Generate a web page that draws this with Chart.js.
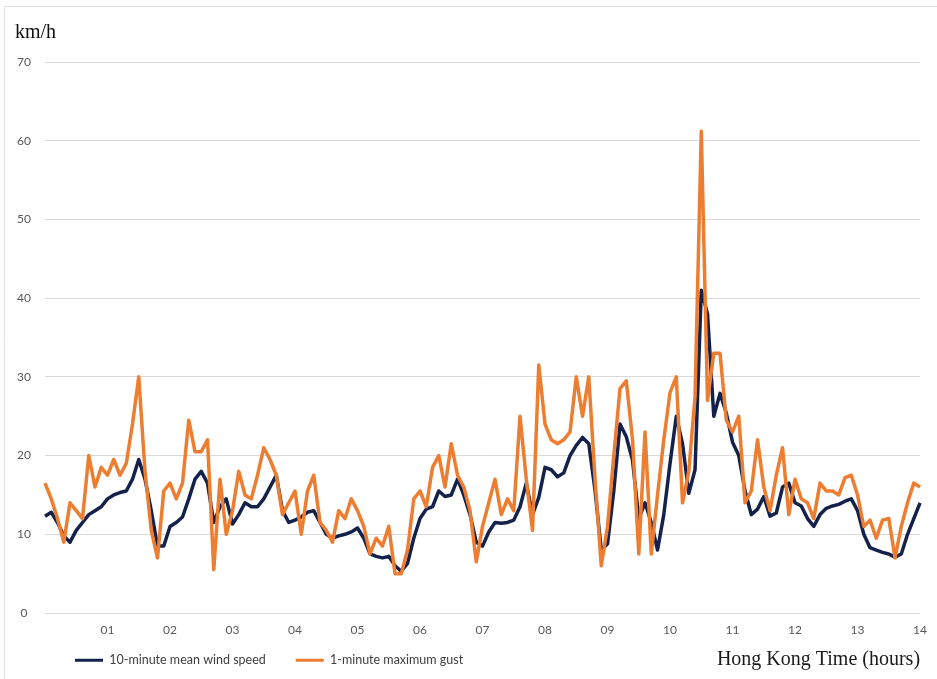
<!DOCTYPE html>
<html>
<head>
<meta charset="utf-8">
<title>Wind speed and gust</title>
<script src="https://cdn.jsdelivr.net/npm/chart.js@4.4.1/dist/chart.umd.min.js"></script>
<style>
  html, body { margin: 0; padding: 0; background: #ffffff; }
  #wrap { width: 937px; height: 679px; }
</style>
</head>
<body>
<div id="wrap"><canvas id="chart-wind" width="937" height="679"></canvas></div>
<script>
// readings every 6 minutes from 00:00 to 14:00 (141 points)
const timeLabels = [];
for (let m = 0; m <= 840; m += 6) {
    const h = String(Math.floor(m / 60)).padStart(2, '0');
    const mm = String(m % 60).padStart(2, '0');
    timeLabels.push(h + ':' + mm);
}

// 10-minute mean wind speed (km/h)
const meanSpeed = [
    12.3, 12.8, 11.5, 9.8, 9.0, 10.5, 11.5, 12.5, 13.0, 13.5,
    14.5, 15.0, 15.3, 15.5, 17.0, 19.5, 17.0, 13.0, 8.5, 8.5,
    11.0, 11.5, 12.2, 14.5, 17.0, 18.0, 16.5, 11.5, 13.5, 14.5,
    11.3, 12.5, 14.0, 13.5, 13.5, 14.5, 16.0, 17.5, 13.0, 11.5,
    11.8, 12.2, 12.8, 13.0, 11.5, 10.0, 9.5, 9.8, 10.0, 10.3,
    10.8, 9.5, 7.5, 7.2, 7.0, 7.2, 6.0, 5.3, 6.3, 9.5,
    12.0, 13.2, 13.5, 15.5, 14.8, 15.0, 17.0, 15.0, 12.5, 9.0,
    8.5, 10.3, 11.5, 11.4, 11.5, 11.8, 13.5, 16.5, 12.5, 14.7,
    18.5, 18.2, 17.3, 17.8, 20.0, 21.3, 22.3, 21.5, 15.6, 8.0,
    8.8, 15.5, 24.0, 22.4, 19.4, 12.0, 14.0, 11.5, 8.0, 12.5,
    19.0, 25.0, 21.5, 15.2, 18.2, 41.0, 38.0, 25.0, 27.9, 25.4,
    21.7, 20.0, 15.5, 12.5, 13.2, 14.8, 12.3, 12.7, 16.0, 16.5,
    14.0, 13.6, 12.0, 11.0, 12.5, 13.3, 13.6, 13.8, 14.2, 14.5,
    13.0, 10.0, 8.3, 8.0, 7.7, 7.5, 7.1, 7.5, 10.0, 12.0, 14.0
];

// 1-minute maximum gust (km/h)
const maxGust = [
    16.5, 14.5, 12.0, 9.0, 14.0, 13.0, 12.0, 20.0, 16.0, 18.5,
    17.5, 19.5, 17.5, 19.0, 24.0, 30.0, 18.0, 10.5, 7.0, 15.5,
    16.5, 14.5, 16.5, 24.5, 20.5, 20.5, 22.0, 5.5, 17.0, 10.0,
    13.0, 18.0, 15.0, 14.5, 17.5, 21.0, 19.5, 17.5, 12.5, 14.0,
    15.5, 10.0, 15.5, 17.5, 11.5, 10.5, 9.0, 13.0, 12.0, 14.5,
    13.0, 11.0, 7.5, 9.5, 8.5, 11.0, 5.0, 5.0, 8.0, 14.5,
    15.5, 13.5, 18.5, 20.0, 16.0, 21.5, 17.5, 16.0, 13.0, 6.5,
    11.0, 14.0, 17.0, 12.5, 14.5, 13.0, 25.0, 17.0, 10.5, 31.5,
    24.0, 22.0, 21.5, 22.0, 23.0, 30.0, 25.0, 30.0, 17.0, 6.0,
    11.0, 20.0, 28.5, 29.5, 22.0, 7.5, 23.0, 7.5, 15.0, 22.0,
    28.0, 30.0, 14.0, 18.0, 27.5, 61.2, 27.0, 33.0, 33.0, 24.5,
    23.0, 25.0, 14.0, 15.5, 22.0, 16.0, 13.0, 17.5, 21.0, 12.5,
    17.0, 14.5, 14.0, 12.0, 16.5, 15.5, 15.5, 15.0, 17.2, 17.5,
    15.0, 11.0, 11.8, 9.5, 11.8, 12.0, 7.0, 11.0, 14.0, 16.5, 16.0
];

const NAVY = '#14214b';
const ORANGE = '#ed7d31';
const SANS = "Lato, 'Open Sans', sans-serif";
const SERIF = "'Liberation Serif', 'DejaVu Serif', serif";

// light frame round the picture, like the original screenshot
const framePlugin = {
    id: 'frame',
    beforeDraw(chart) {
        const ctx = chart.ctx;
        ctx.save();
        ctx.fillStyle = '#ffffff';
        ctx.fillRect(0, 0, chart.width, chart.height);
        ctx.strokeStyle = '#e2e2e2';
        ctx.lineWidth = 1;
        ctx.beginPath();
        ctx.moveTo(4.5, chart.height);
        ctx.lineTo(4.5, 6.5);
        ctx.lineTo(chart.width, 6.5);
        ctx.stroke();
        ctx.restore();
    }
};

// the legend sits on the same row as the x axis title:
// pull its top edge up (legend draws from top + padding, clipped to its box)
const legendShift = {
    id: 'legendShift',
    afterLayout(chart) {
        if (chart.legend) {
            chart.legend.top -= 25;
        }
    }
};

const ctx = document.getElementById('chart-wind').getContext('2d');
const chart = new Chart(ctx, {
    type: 'line',
    data: {
        labels: timeLabels,
        datasets: [
            {
                label: '10-minute mean wind speed',
                data: meanSpeed,
                borderColor: NAVY,
                backgroundColor: NAVY,
                borderWidth: 3.5,
                order: 1
            },
            {
                label: '1-minute maximum gust',
                data: maxGust,
                borderColor: ORANGE,
                backgroundColor: ORANGE,
                borderWidth: 3.5,
                order: 0   // gust drawn over the mean
            }
        ]
    },
    options: {
        responsive: false,
        animation: false,
        layout: {
            padding: { top: 9, left: 15, right: 12, bottom: 1 }
        },
        elements: {
            point: { radius: 0 },
            line: { tension: 0, borderJoinStyle: 'round', fill: false }
        },
        scales: {
            x: {
                grid: { display: false, drawTicks: false },
                border: { display: false },
                ticks: {
                    autoSkip: false,
                    maxRotation: 0,
                    padding: 10,
                    color: '#595959',
                    font: { family: SANS, size: 12 },
                    callback: function(value, i) {
                        return (i > 0 && i % 10 === 0) ? timeLabels[i].slice(0, 2) : null;
                    }
                },
                title: {
                    display: true,
                    text: 'Hong Kong Time (hours)',
                    align: 'end',
                    color: '#1a1a1a',
                    font: { family: SERIF, size: 20 },
                    padding: { top: 0, bottom: -23 }
                },
                afterFit: function(scale) {
                    scale.height = 36;
                }
            },
            y: {
                min: 0,
                max: 70,
                ticks: {
                    stepSize: 10,
                    padding: 14,
                    crossAlign: 'center',
                    color: '#595959',
                    font: { family: SANS, size: 12 }
                },
                grid: { color: '#d9d9d9', lineWidth: 1, drawTicks: false },
                border: { display: false },
                afterFit: function(scale) {
                    scale.width = 30;
                }
            }
        },
        plugins: {
            title: {
                display: true,
                text: 'km/h',
                align: 'start',
                color: '#111111',
                font: { family: SERIF, size: 20, weight: 'normal' },
                padding: { top: 12, bottom: 17 }
            },
            legend: {
                display: true,
                position: 'bottom',
                align: 'start',
                fullSize: false,
                maxHeight: 29,
                labels: {
                    boxWidth: 28,
                    boxHeight: 3,
                    padding: 30,
                    color: '#404040',
                    font: { family: SANS, size: 12.5 },
                    generateLabels: function(chart) {
                        const items = Chart.defaults.plugins.legend.labels.generateLabels(chart);
                        items.sort((a, b) => a.datasetIndex - b.datasetIndex);
                        return items.map(item => ({ ...item, lineWidth: 0, fillStyle: item.strokeStyle }));
                    }
                }
            },
            tooltip: { enabled: false }
        }
    },
    plugins: [framePlugin, legendShift]
});
</script>
</body>
</html>
